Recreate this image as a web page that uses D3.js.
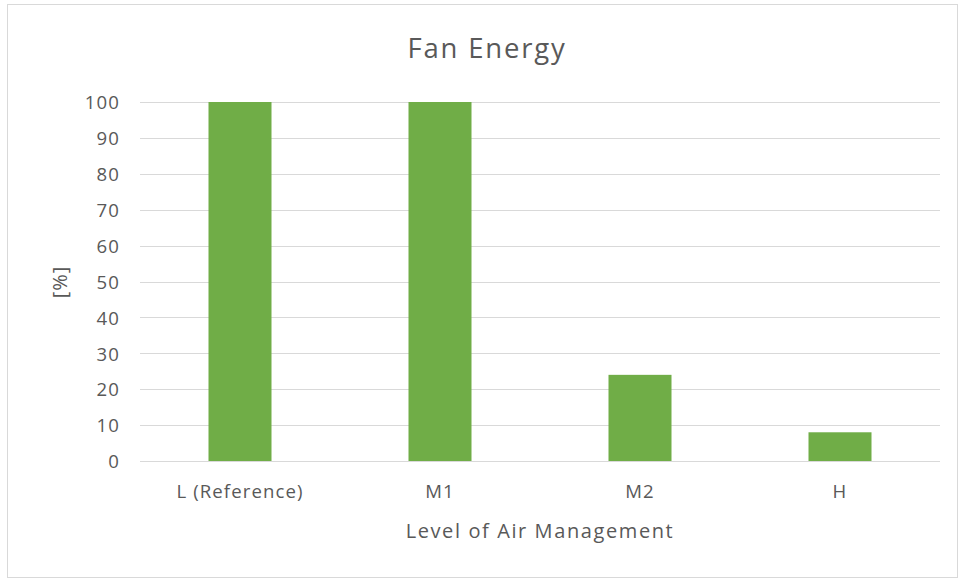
<!DOCTYPE html>
<html><head><meta charset="utf-8">
<script src="https://cdn.jsdelivr.net/npm/d3@7"></script>
<style>body{margin:0;background:#fff;}svg{display:block;font-family:"Open Sans","Noto Sans",sans-serif;}</style>
</head><body>
<svg id="c" width="962" height="579"></svg>
<script>
const categories = ["L (Reference)", "M1", "M2", "H"];
const values = [100, 100, 24, 8];
const yTicks = [0, 10, 20, 30, 40, 50, 60, 70, 80, 90, 100];
const title = "Fan Energy";
const xTitle = "Level of Air Management";
const yTitle = "[%]";

const svg = d3.select("#c");
const m = {left: 140, right: 940, top: 102, bottom: 461};
const textColor = "#595959";
const font = "'Open Sans','Noto Sans',sans-serif";

svg.append("rect").attr("x", 7.5).attr("y", 4.5).attr("width", 950).attr("height", 573)
  .attr("fill", "#fff").attr("stroke", "#d9d9d9").attr("stroke-width", 1);

const x = d3.scaleBand().domain(categories).range([m.left, m.right]).paddingInner(0.685).paddingOuter(0.3425);
const y = d3.scaleLinear().domain([0, 100]).range([m.bottom, m.top]);

const grid = svg.append("g");
grid.selectAll("line").data(yTicks).join("line")
  .attr("x1", m.left).attr("x2", m.right)
  .attr("y1", d => Math.round(y(d)) + 0.5).attr("y2", d => Math.round(y(d)) + 0.5)
  .attr("stroke", "#d9d9d9").attr("stroke-width", 1);

svg.append("g").selectAll("rect").data(values).join("rect")
  .attr("x", (d, i) => x(categories[i]))
  .attr("width", x.bandwidth())
  .attr("y", d => y(d))
  .attr("height", d => y(0) - y(d))
  .attr("fill", "#70ad47");

const yAxis = d3.axisLeft(y).tickValues(yTicks).tickSize(0).tickPadding(0);
const ya = svg.append("g").attr("transform", "translate(120,0)").call(yAxis)
  .attr("font-family", font).attr("font-size", 18.6);
ya.select(".domain").remove();
ya.selectAll("text").attr("fill", textColor).attr("dy", "0.36em").attr("letter-spacing", "1.1px");

const xAxis = d3.axisBottom(x).tickSize(0).tickPadding(0);
const xa = svg.append("g").attr("transform", "translate(0,498)").call(xAxis)
  .attr("font-family", font).attr("font-size", 18.6);
xa.select(".domain").remove();
xa.selectAll("text").attr("fill", textColor).attr("dy", 0).attr("letter-spacing", "1.1px");

svg.append("text").attr("x", 487).attr("y", 57.5).attr("text-anchor", "middle")
  .attr("fill", textColor).style("font-size", "27.5px").attr("letter-spacing", "1.8px").text(title);

svg.append("text").attr("x", 540).attr("y", 538).attr("text-anchor", "middle")
  .attr("fill", textColor).style("font-size", "20px").attr("letter-spacing", "1.6px").text(xTitle);

svg.append("text").attr("transform", "translate(67,282) rotate(-90)").attr("text-anchor", "middle")
  .attr("fill", textColor).style("font-size", "20px").attr("letter-spacing", "1px").text(yTitle);
</script>
</body></html>
